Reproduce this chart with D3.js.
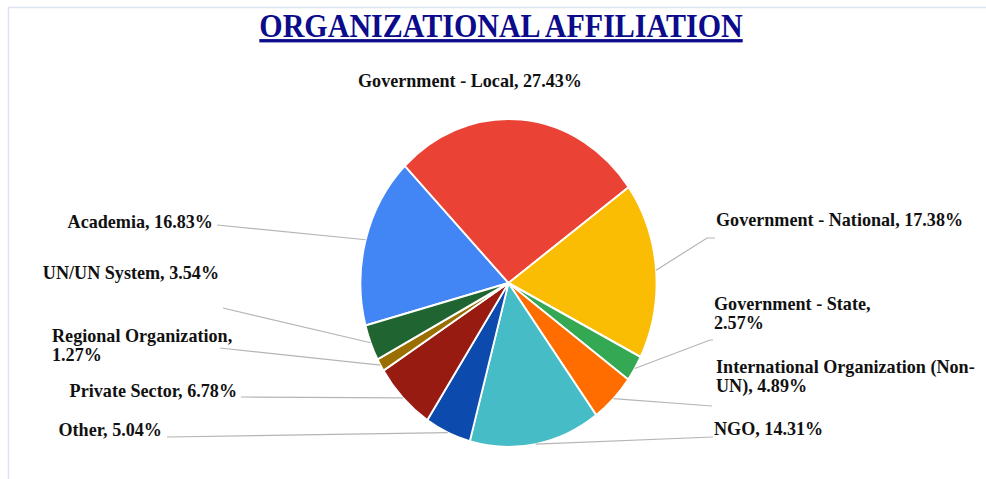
<!DOCTYPE html>
<html>
<head>
<meta charset="utf-8">
<script src="https://cdn.jsdelivr.net/npm/d3@7"></script>
<style>
  body { margin: 0; background: #fff; }
  svg { display: block; }
</style>
</head>
<body>
<svg id="chart" width="986" height="479"></svg>
<script>
// data, alphabetical order as in the source sheet (clockwise)
const categories = [
  "Academia",
  "Government - Local",
  "Government - National",
  "Government - State",
  "International Organization (Non-UN)",
  "NGO",
  "Other",
  "Private Sector",
  "Regional Organization",
  "UN/UN System"
]
const shares = [16.83, 27.43, 17.38, 2.57, 4.89, 14.31, 5.04, 6.78, 1.27, 3.54]
const colours = [
  "#4285F4", "#EA4335", "#FBBC04", "#34A853", "#FF6D01",
  "#46BDC6", "#0D4AAE", "#981B12", "#9A6E00", "#1F6431"
]

// label layout: text lines, anchor point, side of the leader line
const labelLayout = {
  "Academia": { x: 213, y: 228, anchor: "end", lines: ["Academia, 16.83%"], leader: [[217, 225]] },
  "Government - Local": { x: 358, y: 87, anchor: "start", lines: ["Government - Local, 27.43%"], leader: null },
  "Government - National": { x: 716, y: 226, anchor: "start", lines: ["Government - National, 17.38%"], leader: [[707, 238], [715, 238]] },
  "Government - State": { x: 714, y: 310, anchor: "start", lines: ["Government - State,", "2.57%"], leader: [[710, 340], [713, 340]] },
  "International Organization (Non-UN)": { x: 716, y: 373, anchor: "start", lines: ["International Organization (Non-", "UN), 4.89%"], leader: [[712, 406]] },
  "NGO": { x: 714, y: 435, anchor: "start", lines: ["NGO, 14.31%"], leader: [[713, 437]] },
  "Other": { x: 162, y: 436, anchor: "end", lines: ["Other, 5.04%"], leader: [[167, 437]] },
  "Private Sector": { x: 237, y: 397, anchor: "end", lines: ["Private Sector, 6.78%"], leader: [[241, 397]] },
  "Regional Organization": { x: 52, y: 342, anchor: "start", lines: ["Regional Organization,", "1.27%"], leader: [[220, 348]] },
  "UN/UN System": { x: 219, y: 279, anchor: "end", lines: ["UN/UN System, 3.54%"], leader: [[223, 308]] }
}

const width = 986, height = 479
const cx = 508.5, cy = 283
const ry = 164, rx = 148
const squeeze = 0.93
const fontFamily = "'Liberation Serif', 'Times New Roman', serif"

let svg = d3.select("#chart")

// frame
svg.append("path")
  .attr("d", `M8.5,${height} V7.5 H${width}`)
  .attr("fill", "none")
  .attr("stroke", "#dbe4f0")
  .attr("stroke-width", 1.5)

// title
svg.append("text")
  .attr("transform", `translate(501,37) scale(0.91,1)`)
  .attr("text-anchor", "middle")
  .attr("font-family", fontFamily)
  .attr("font-weight", "bold")
  .attr("font-size", 33)
  .attr("fill", "#0b0b8c")
  .attr("text-decoration", "underline")
  .text("ORGANIZATIONAL AFFILIATION")

let data = categories.map((c, i) => ({ name: c, value: shares[i], colour: colours[i] }))

const start = -105 * Math.PI / 180
let pie = d3.pie()
  .sort(null)
  .value(d => d.value)
  .startAngle(start)
  .endAngle(start + 2 * Math.PI)

let arc = d3.arc().innerRadius(0).outerRadius(ry)
let arcs = pie(data)

let g = svg.append("g")
  .attr("transform", `translate(${cx},${cy}) scale(${rx / ry},1)`)

g.selectAll("path")
  .data(arcs)
  .join("path")
  .attr("d", arc)
  .attr("fill", d => d.data.colour)
  .attr("stroke", "#fff")
  .attr("stroke-width", 2)

// leader lines from slice edge (mid angle) to the label
let line = d3.line()
arcs.forEach(a => {
  let lay = labelLayout[a.data.name]
  if (!lay.leader) return
  let mid = (a.startAngle + a.endAngle) / 2
  let p = [cx + rx * Math.sin(mid), cy - ry * Math.cos(mid)]
  svg.append("path")
    .attr("d", line([p, ...lay.leader]))
    .attr("fill", "none")
    .attr("stroke", "#b5b5b5")
    .attr("stroke-width", 1.2)
})

// labels
arcs.forEach(a => {
  let lay = labelLayout[a.data.name]
  let t = svg.append("text")
    .attr("transform", `translate(${lay.x},${lay.y}) scale(${squeeze},1)`)
    .attr("text-anchor", lay.anchor)
    .attr("font-family", fontFamily)
    .attr("font-weight", "bold")
    .attr("font-size", 19.5)
    .attr("fill", "#111")
  lay.lines.forEach((s, i) => {
    t.append("tspan")
      .attr("x", 0)
      .attr("dy", i === 0 ? 0 : 19.5)
      .text(s)
  })
})
</script>
</body>
</html>
